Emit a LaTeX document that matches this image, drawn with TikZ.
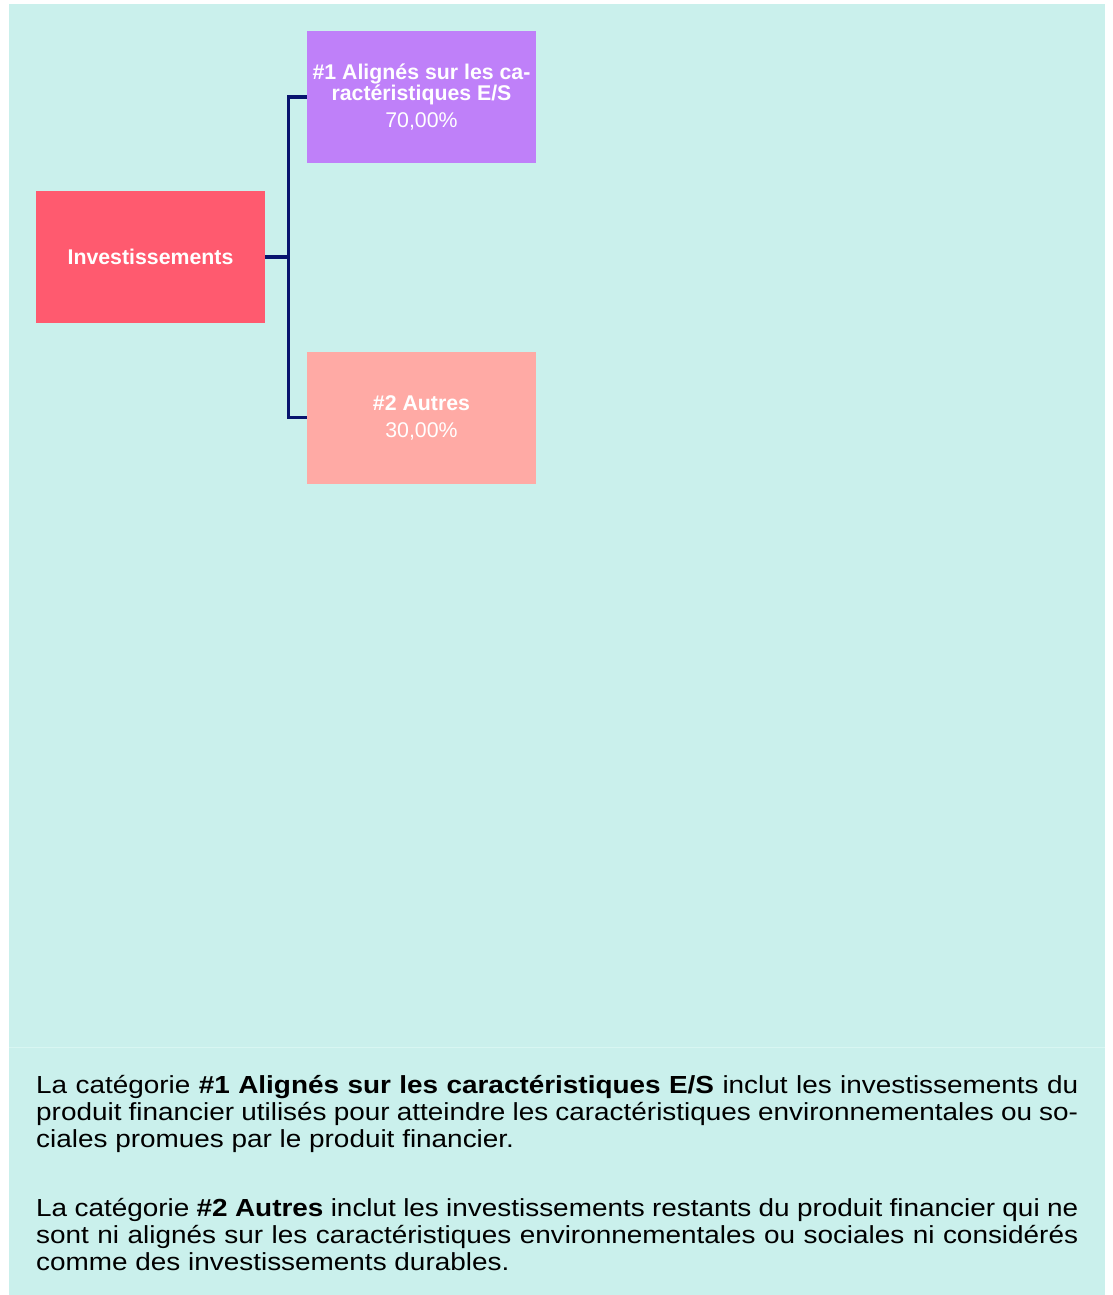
\documentclass[tikz,border=0pt]{standalone}
\usepackage{fontspec}
\setmainfont{Liberation Sans}
\newfontfamily\notefont[FakeStretch=1.13]{Liberation Sans}
\definecolor{bgmint}{RGB}{202,240,236}
\definecolor{seammint}{RGB}{216,246,242}
\definecolor{investred}{RGB}{255,90,111}
\definecolor{alignlilac}{RGB}{191,128,249}
\definecolor{otherpink}{RGB}{255,170,165}
\definecolor{linknavy}{RGB}{8,20,110}

\begin{document}
\begin{tikzpicture}[x=1pt,y=-1pt,
  box/.style={rectangle,minimum width=229pt,minimum height=132pt,inner sep=2pt,
    text=white,align=center,font=\fontsize{21.3}{21}\selectfont},
  link/.style={draw=linknavy,line width=3.4pt,line join=miter},
  note/.style={anchor=base west,inner sep=0pt,text width=1042pt,align=justify,
    font=\notefont\fontsize{24.7}{27}\selectfont}]
\useasboundingbox (0,0) rectangle (1112,1295);
\fill[bgmint] (9,4) rectangle (1105,1295);
\draw[seammint,line width=1pt] (9,1047) -- (1105,1047);

\node[box,fill=investred] (invest) at (150.5,257) {\textbf{Investissements}};
\node[box,fill=alignlilac] (align) at (421.5,97)
  {\textbf{\#1 Alignés sur les ca-}\\\textbf{ractéristiques E/S}\\[6pt]70,00\%};
\node[box,fill=otherpink] (other) at (421.5,417.5)
  {\textbf{\#2 Autres}\\[6pt]30,00\%};

\draw[link] (invest.east) -- ++(23,0) |- (align.west);
\draw[link] (invest.east) -- ++(23,0) |- (other.west);

\node[note] (notealign) at (36,1093) {La catégorie \textbf{\#1 Alignés sur les caractéristiques E/S} inclut les investissements du\linebreak
  produit financier utilisés pour atteindre les caractéristiques environnementales ou so-\linebreak
  ciales promues par le produit financier.};
\node[note] (noteother) at (36,1216) {La catégorie \textbf{\#2 Autres} inclut les investissements restants du produit financier qui ne\linebreak
  sont ni alignés sur les caractéristiques environnementales ou sociales ni considérés\linebreak
  comme des investissements durables.};
\end{tikzpicture}
\end{document}
